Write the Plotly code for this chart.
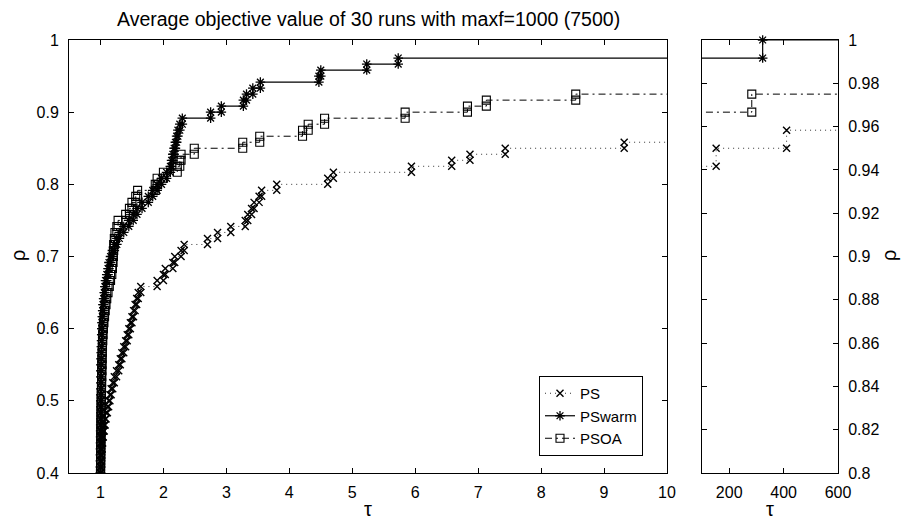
import plotly.graph_objects as go

N_PROBLEMS = 120

# performance-profile breakpoints: tau value and number of problems solved (rho = solved / N)
PS_TAU = [1.000, 1.000, 1.004, 1.008, 1.013, 1.018, 1.025, 1.035, 1.045, 1.060, 1.075,
          1.090, 1.110, 1.130, 1.150, 1.170, 1.195, 1.220, 1.255, 1.290, 1.315,
          1.340, 1.370, 1.400, 1.425, 1.450, 1.475, 1.500, 1.525, 1.550, 1.575,
          1.600, 1.640, 1.900, 2.000, 2.030, 2.150, 2.180, 2.280, 2.330, 2.700,
          2.860, 3.070, 3.300, 3.340, 3.400, 3.440, 3.520, 3.560, 3.800, 4.610,
          4.700, 5.940, 6.580, 6.870, 7.430, 9.320,
          11.0, 13.0, 16.0, 20.0, 25.0, 32.0, 45.0, 60.0, 80.0, 90.0, 152.0, 411.0]
PS_SOLVED = [46, 48, 49, 50, 51, 52, 53, 54, 55, 56, 57,
             58, 59, 60, 61, 62, 63, 64, 65, 66, 67,
             68, 69, 70, 71, 72, 73, 74, 75, 76, 77,
             78, 79, 80, 81, 82, 83, 84, 85, 86, 87,
             88, 89, 90, 91, 92, 93, 94, 95, 96, 97,
             98, 99, 100, 101, 102, 103,
             104, 105, 106, 107, 108, 109, 110, 111, 112, 113, 114, 115]

PSWARM_TAU = [1.000, 1.000, 1.001, 1.001, 1.002, 1.002, 1.003, 1.003, 1.004, 1.004, 1.005,
              1.005, 1.006, 1.006, 1.007, 1.008, 1.009, 1.010, 1.011, 1.012, 1.013,
              1.015, 1.016, 1.018, 1.020, 1.022, 1.026, 1.030, 1.035, 1.040, 1.050,
              1.060, 1.070, 1.080, 1.100, 1.120, 1.135, 1.160, 1.190, 1.220, 1.260,
              1.300, 1.370, 1.450, 1.520, 1.580, 1.660, 1.760, 1.830, 1.900, 1.970,
              2.050, 2.110, 2.130, 2.150, 2.170, 2.190, 2.210, 2.230, 2.260, 2.300,
              2.750, 2.920, 3.270, 3.320, 3.420, 3.540, 4.470, 4.500, 5.230, 5.730,
              18.0, 45.0, 323.0]
PSWARM_SOLVED = [46, 48, 49, 50, 51, 52, 53, 54, 55, 56, 57,
                 58, 59, 60, 61, 62, 63, 64, 65, 66, 67,
                 68, 69, 70, 71, 72, 73, 74, 75, 76, 77,
                 78, 79, 80, 81, 82, 83, 84, 85, 86, 87,
                 88, 89, 90, 91, 92, 93, 94, 95, 96, 97,
                 98, 99, 100, 101, 102, 103, 104, 105, 106, 107,
                 108, 109, 110, 111, 112, 113, 114, 115, 116, 117,
                 118, 119, 120]

PSOA_TAU = [1.000, 1.000, 1.001, 1.002, 1.003, 1.004, 1.005, 1.006, 1.007, 1.008, 1.009,
            1.010, 1.011, 1.012, 1.013, 1.015, 1.017, 1.018, 1.020, 1.022, 1.024,
            1.026, 1.029, 1.032, 1.036, 1.040, 1.047, 1.055, 1.065, 1.075, 1.088,
            1.100, 1.120, 1.140, 1.160, 1.180, 1.190, 1.200, 1.205, 1.210, 1.220,
            1.230, 1.260, 1.280, 1.400, 1.460, 1.500, 1.560, 1.590, 1.870, 1.900,
            2.000, 2.220, 2.260, 2.280, 2.490, 3.260, 3.530, 4.210, 4.300, 4.560,
            5.840, 6.830, 7.130, 8.550,
            12.0, 20.0, 35.0, 60.0, 85.0, 283.0]
PSOA_SOLVED = [46, 48, 49, 50, 51, 52, 53, 54, 55, 56, 57,
               58, 59, 60, 61, 62, 63, 64, 65, 66, 67,
               68, 69, 70, 71, 72, 73, 74, 75, 76, 77,
               78, 79, 80, 81, 82, 83, 84, 85, 86, 87,
               88, 89, 90, 91, 92, 93, 94, 95, 96, 97,
               98, 99, 100, 101, 102, 103, 104, 105, 106, 107,
               108, 109, 110, 111,
               112, 113, 114, 115, 116, 117]

SERIES = ["PS", "PSwarm", "PSOA"]
TITLE = "Average objective value of 30 runs with maxf=1000 (7500)"
LEFT_X_TICKS = [1, 2, 3, 4, 5, 6, 7, 8, 9, 10]
LEFT_Y_TICKS = [0.4, 0.5, 0.6, 0.7, 0.8, 0.9, 1.0]
LEFT_Y_LABELS = ["0.4", "0.5", "0.6", "0.7", "0.8", "0.9", "1"]
RIGHT_X_TICKS = [200, 400, 600]
RIGHT_Y_TICKS = [0.8, 0.82, 0.84, 0.86, 0.88, 0.9, 0.92, 0.94, 0.96, 0.98, 1.0]
RIGHT_Y_LABELS = ["0.8", "0.82", "0.84", "0.86", "0.88", "0.9", "0.92", "0.94", "0.96", "0.98", "1"]

X_END = 700.0

def stair_vertices(tau, solved):
    rho = [s / N_PROBLEMS for s in solved]
    xs, ys = [tau[0]], [rho[0]]
    for i in range(1, len(tau)):
        xs += [tau[i], tau[i]]
        ys += [rho[i - 1], rho[i]]
    return xs, ys

STYLE = {
    "PS": dict(line=dict(color="#333333", width=1, dash="1px,4px"),
               marker=dict(symbol="x-thin-open", size=7, color="black",
                           line=dict(color="black", width=1.4))),
    "PSwarm": dict(line=dict(color="black", width=1.2, dash="solid"),
                   marker=dict(symbol="asterisk-open", size=8, color="black",
                               line=dict(color="black", width=1.3))),
    "PSOA": dict(line=dict(color="black", width=1, dash="7px,4px,2px,4px"),
                 marker=dict(symbol="square-open", size=8, color="black",
                             line=dict(color="black", width=1.1))),
}

DATA = {"PS": (PS_TAU, PS_SOLVED), "PSwarm": (PSWARM_TAU, PSWARM_SOLVED), "PSOA": (PSOA_TAU, PSOA_SOLVED)}

fig = go.Figure()
for name in SERIES:
    tau, solved = DATA[name]
    xs, ys = stair_vertices(tau, solved)
    st = STYLE[name]
    # left panel
    fig.add_trace(go.Scatter(x=xs + [X_END], y=ys + [ys[-1]], mode="lines+markers", name=name,
                             line=st["line"], marker=st["marker"], xaxis="x", yaxis="y",
                             cliponaxis=True))
    # right panel: line (clipped) and in-range markers (not clipped)
    fig.add_trace(go.Scatter(x=xs + [X_END], y=ys + [ys[-1]], mode="lines", showlegend=False,
                             line=st["line"], xaxis="x2", yaxis="y2"))
    mx = [x for x, y in zip(xs, ys) if 100 <= x <= 600 and 0.8 <= y <= 1.0]
    my = [y for x, y in zip(xs, ys) if 100 <= x <= 600 and 0.8 <= y <= 1.0]
    fig.add_trace(go.Scatter(x=mx, y=my, mode="markers", showlegend=False,
                             marker=st["marker"], xaxis="x2", yaxis="y2", cliponaxis=False))

FONT = "Liberation Sans, Arial, sans-serif"
L, R, T, B = 69, 67, 40, 49
W, H = 905, 522
pw = W - L - R
ph = H - T - B
left_dom = [0, (667 - L) / pw]
right_dom = [(702 - L) / pw, 1]

axis_common = dict(showline=True, linecolor="black", linewidth=1, mirror="ticks",
                   ticks="inside", ticklen=5, tickcolor="black", tickwidth=1,
                   showgrid=False, zeroline=False, tickfont=dict(family=FONT, size=16, color="black"))

fig.update_layout(
    width=W, height=H, margin=dict(l=L, r=R, t=T, b=B),
    paper_bgcolor="white", plot_bgcolor="white",
    font=dict(family=FONT, size=15, color="black"),
    xaxis=dict(domain=left_dom, range=[0.5, 10], tickvals=LEFT_X_TICKS, anchor="y",
               ticklabelstandoff=5, **axis_common),
    yaxis=dict(domain=[0, 1], range=[0.4, 1.0], tickvals=LEFT_Y_TICKS, ticktext=LEFT_Y_LABELS,
               anchor="x", ticklabelstandoff=6, **axis_common),
    xaxis2=dict(domain=right_dom, range=[100, 600], tickvals=RIGHT_X_TICKS, anchor="y2",
                ticklabelstandoff=5, **axis_common),
    yaxis2=dict(domain=[0, 1], range=[0.8, 1.0], tickvals=RIGHT_Y_TICKS, ticktext=RIGHT_Y_LABELS,
                anchor="x2", side="right", ticklabelstandoff=6, **axis_common),
    showlegend=True,
    legend=dict(x=(643 - L) / pw, y=(473 - 456) / ph, xanchor="right", yanchor="bottom",
                bgcolor="white", bordercolor="black", borderwidth=1,
                font=dict(family=FONT, size=15, color="black"), tracegroupgap=0,
                itemwidth=30),
    annotations=[
        dict(text=TITLE, xref="paper", yref="paper", x=(368 - L) / pw, y=(T - 19 + ph) / ph,
             xanchor="center", yanchor="middle", showarrow=False,
             font=dict(family=FONT, size=19.5, color="black")),
        dict(text="τ", xref="paper", yref="paper", x=(368 - L) / pw, y=-(509 - T - ph) / ph,
             xanchor="center", yanchor="middle", showarrow=False, font=dict(family=FONT, size=20)),
        dict(text="τ", xref="paper", yref="paper", x=(770 - L) / pw, y=-(509 - T - ph) / ph,
             xanchor="center", yanchor="middle", showarrow=False, font=dict(family=FONT, size=20)),
        dict(text="ρ", xref="paper", yref="paper", x=(18 - L) / pw, y=(H - B - 256) / ph,
             xanchor="center", yanchor="middle", showarrow=False, textangle=-90,
             font=dict(family=FONT, size=20)),
        dict(text="ρ", xref="paper", yref="paper", x=(889 - L) / pw, y=(H - B - 256) / ph,
             xanchor="center", yanchor="middle", showarrow=False, textangle=-90,
             font=dict(family=FONT, size=20)),
    ],
)

fig.write_html("out.html")
